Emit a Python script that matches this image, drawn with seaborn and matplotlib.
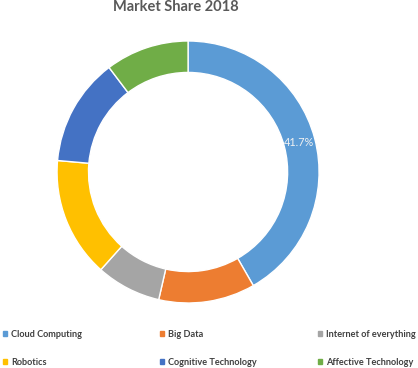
import matplotlib
matplotlib.use("Agg")
import matplotlib.pyplot as plt
import matplotlib.patches as mpatches
import seaborn as sns

# data
categories = ["Cloud Computing", "Big Data", "Internet of everything",
              "Robotics", "Cognitive Technology", "Affective Technology"]
shares = [41.7, 11.9, 8.0, 14.8, 13.3, 10.3]
colors = ["#5B9BD5", "#ED7D31", "#A5A5A5", "#FFC000", "#4472C4", "#70AD47"]

sns.set_style("white")
plt.rcParams['font.family'] = ['Lato', 'DejaVu Sans']

fig = plt.figure(figsize=(4.18, 3.68), dpi=100)
ax = fig.add_axes([0.1364, 0.1766, 0.627, 0.712])

def lab(p):
    return "{:.1f}%".format(p) if p > 40 else ""

wedges, texts, autotexts = ax.pie(
    shares, colors=colors, startangle=90, counterclock=False,
    wedgeprops=dict(width=0.24, edgecolor="white", linewidth=1),
    autopct=lab, pctdistance=0.88,
    textprops=dict(color="#F2F2F2", fontsize=7.8))
ax.set_xlim(-1, 1)
ax.set_ylim(-1, 1)
ax.set_aspect("equal")

fig.text(176 / 418, 1 - 7 / 368, "Market Share 2018", ha="center", va="center",
         fontsize=10.5, fontweight="bold", color="#595959")

# legend in three columns, two rows
col_x = [3 / 418, 160 / 418, 318 / 418]
for c in range(3):
    idx = [c, c + 3]
    handles = [mpatches.Patch(color=colors[i], label=categories[i]) for i in idx]
    leg = fig.legend(handles=handles, loc="upper left",
                     bbox_to_anchor=(col_x[c], 1 - 330 / 368), frameon=False,
                     borderpad=0, borderaxespad=0,
                     handlelength=0.45, handleheight=0.45, handletextpad=0.4,
                     labelspacing=2.05, prop=dict(size=6.6, weight="bold"))
    for t in leg.get_texts():
        t.set_color("#404040")

fig.savefig("out.png", dpi=100, facecolor="white")
